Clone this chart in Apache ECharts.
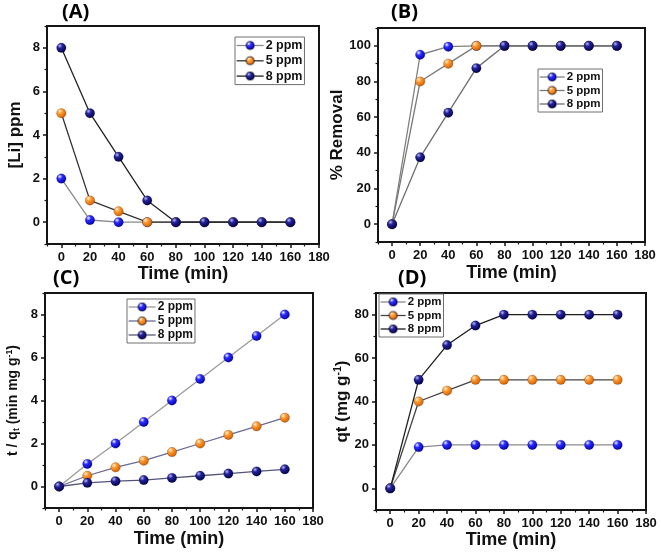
<!DOCTYPE html>
<html><head><meta charset="utf-8">
<script src="https://cdn.jsdelivr.net/npm/echarts@6/dist/echarts.min.js"></script>
<style>html,body{margin:0;padding:0;background:#fff}#c{width:661px;height:552px}</style>
</head><body><div id="c"></div>
<script>
// ---- data ----
const times = [0, 20, 40, 60, 80, 100, 120, 140, 160];
const seriesNames = ['2 ppm', '5 ppm', '8 ppm'];
const panelTitles = ['(A)', '(B)', '(C)', '(D)'];
const xTickLabels = [0, 20, 40, 60, 80, 100, 120, 140, 160, 180];
const xMinorTicks = [-10, 10, 30, 50, 70, 90, 110, 130, 150, 170];
// (A) [Li] ppm
const liA_2 = [2, 0.1, 0, 0, 0, 0, 0, 0, 0];
const liA_5 = [5, 1, 0.5, 0, 0, 0, 0, 0, 0];
const liA_8 = [8, 5, 3, 1, 0, 0, 0, 0, 0];
const yTicksA = [0, 2, 4, 6, 8];
const yMinorA = [-1, 1, 3, 5, 7, 9];
// (B) % Removal
const remB_2 = [0, 95, 99.5, 100, 100, 100, 100, 100, 100];
const remB_5 = [0, 80, 90, 100, 100, 100, 100, 100, 100];
const remB_8 = [0, 37.5, 62.5, 87.5, 100, 100, 100, 100, 100];
const yTicksB = [0, 20, 40, 60, 80, 100];
const yMinorB = [-10, 10, 30, 50, 70, 90, 110];
// (C) t/qt
const tqC_2 = [0, 1.05, 2, 3, 4, 5, 6, 7, 8];
const tqC_5 = [0, 0.5, 0.89, 1.2, 1.6, 2, 2.4, 2.8, 3.2];
const tqC_8 = [0, 0.17, 0.25, 0.3, 0.4, 0.5, 0.6, 0.7, 0.8];
const yTicksC = [0, 2, 4, 6, 8];
const yMinorC = [-1, 1, 3, 5, 7, 9];
// (D) qt
const qtD_2 = [0, 19, 20, 20, 20, 20, 20, 20, 20];
const qtD_5 = [0, 40, 45, 50, 50, 50, 50, 50, 50];
const qtD_8 = [0, 50, 66, 75, 80, 80, 80, 80, 80];
const yTicksD = [0, 20, 40, 60, 80];
const yMinorD = [-10, 10, 30, 50, 70, 90];

// ---- styling ----
const FONT = '"Liberation Sans", Arial, sans-serif';
const AX = '#151515';
function sphere(c0, c1, c2) {
  return new echarts.graphic.RadialGradient(0.35, 0.3, 0.72, [
    { offset: 0, color: c0 }, { offset: 0.35, color: c1 }, { offset: 1, color: c2 }
  ]);
}
const markerFill = [
  () => sphere('#f0f4ff', '#2b2bff', '#0000a8'),
  () => sphere('#fff3dc', '#ff9a2e', '#cf5c00'),
  () => sphere('#b8b8f0', '#23239a', '#000048')
];

const panels = [
  { data: [liA_2, liA_5, liA_8], ymin: -1, ymax: 9, yt: yTicksA, ym: yMinorA,
    grid: { left: 47, top: 26, width: 272, height: 218 },
    yname: '[Li] ppm', ynameGap: 23, ynameSize: 17, xnameGap: 21,
    lines: ['#8a8a8a', '#333333', '#222222'],
    legend: { left: 235, top: 37, fs: 12.5, gap: 2.3, pad: [2, 2, 2, 1], iw: 27 },
    title: { left: 62, top: 2 } },
  { data: [remB_2, remB_5, remB_8], ymin: -10, ymax: 110, yt: yTicksB, ym: yMinorB,
    grid: { left: 378, top: 28, width: 267, height: 214 },
    yname: '% Removal', ynameGap: 30, ynameSize: 17, xnameGap: 22,
    lines: ['#808080', '#7a7a7a', '#6e6e6e'],
    legend: { left: 538, top: 69, fs: 11.5, gap: 1.5, pad: [2, 2, 2, 1], iw: 25 },
    title: { left: 391, top: 2 } },
  { data: [tqC_2, tqC_5, tqC_8], ymin: -1, ymax: 9, yt: yTicksC, ym: yMinorC,
    grid: { left: 45, top: 293, width: 268, height: 215 },
    yname: '{n|t / q}{sub|t}{n| (min mg g}{sup|-1}{n|)}', ynameGap: 24, ynameSize: 14, xnameGap: 22,
    lines: ['#9a9a9a', '#6a6a96', '#55557a'],
    legend: { left: 127, top: 299, fs: 12, gap: 2, pad: [2, 2, 2, 1], iw: 27 },
    title: { left: 53, top: 268 } },
  { data: [qtD_2, qtD_5, qtD_8], ymin: -10, ymax: 90, yt: yTicksD, ym: yMinorD,
    grid: { left: 376, top: 293, width: 270, height: 217 },
    yname: '{n|qt (mg g}{sup|-1}{n|)}', ynameGap: 24, ynameSize: 17, xnameGap: 21,
    lines: ['#8a8a8a', '#444444', '#1e1e1e'],
    legend: { left: 379, top: 294, fs: 11.5, gap: 1.5, pad: [2, 2, 2, 1], iw: 25 },
    title: { left: 398, top: 268 } }
];

const option = {
  animation: false,
  backgroundColor: '#fff',
  title: [], grid: [], xAxis: [], yAxis: [], legend: [], series: []
};

panels.forEach((p, i) => {
  option.title.push({
    text: panelTitles[i], left: p.title.left, top: p.title.top, padding: 0,
    textStyle: { fontFamily: '"Open Sans", sans-serif', fontWeight: 'bold', fontSize: 20, color: '#000' }
  });
  option.grid.push(Object.assign({ show: true, borderColor: AX, borderWidth: 2, backgroundColor: 'transparent' }, p.grid));
  // main x axis
  option.xAxis.push({
    type: 'value', gridIndex: i, min: -10, max: 180, position: 'bottom',
    axisLine: { show: true, onZero: false, lineStyle: { color: AX, width: 2 } },
    axisTick: { show: true, inside: false, length: 4, customValues: xTickLabels, lineStyle: { color: AX, width: 1.5 } },
    axisLabel: { customValues: xTickLabels, margin: 7, fontFamily: FONT, fontWeight: 'bold', fontSize: 13, color: '#111' },
    splitLine: { show: false },
    name: 'Time (min)', nameLocation: 'middle', nameGap: p.xnameGap,
    nameTextStyle: { fontFamily: FONT, fontWeight: 'bold', fontSize: 18, color: '#111' }
  });
  // minor x ticks
  option.xAxis.push({
    type: 'value', gridIndex: i, min: -10, max: 180, position: 'bottom', offset: 0,
    axisLine: { show: false, onZero: false },
    axisTick: { show: true, inside: false, length: 2.5, customValues: xMinorTicks, lineStyle: { color: AX, width: 1.2 } },
    axisLabel: { show: false }, splitLine: { show: false }
  });
  const nameRich = {
    n: { fontFamily: FONT, fontWeight: 'bold', fontSize: p.ynameSize, color: '#111', lineHeight: p.ynameSize + 2 },
    sub: { fontFamily: FONT, fontWeight: 'bold', fontSize: p.ynameSize * 0.62, color: '#111', verticalAlign: 'bottom', lineHeight: p.ynameSize * 0.7 },
    sup: { fontFamily: FONT, fontWeight: 'bold', fontSize: p.ynameSize * 0.62, color: '#111', verticalAlign: 'top', lineHeight: p.ynameSize * 0.7 }
  };
  option.yAxis.push({
    type: 'value', gridIndex: i, min: p.ymin, max: p.ymax, position: 'left',
    axisLine: { show: true, onZero: false, lineStyle: { color: AX, width: 2 } },
    axisTick: { show: true, inside: false, length: 4, customValues: p.yt, lineStyle: { color: AX, width: 1.5 } },
    axisLabel: { customValues: p.yt, margin: 7, fontFamily: FONT, fontWeight: 'bold', fontSize: 13, color: '#111' },
    splitLine: { show: false },
    name: p.yname, nameLocation: 'middle', nameGap: p.ynameGap,
    nameTextStyle: { fontFamily: FONT, fontWeight: 'bold', fontSize: p.ynameSize, color: '#111', rich: nameRich }
  });
  option.yAxis.push({
    type: 'value', gridIndex: i, min: p.ymin, max: p.ymax, position: 'left', offset: 0,
    axisLine: { show: false, onZero: false },
    axisTick: { show: true, inside: false, length: 2.5, customValues: p.ym, lineStyle: { color: AX, width: 1.2 } },
    axisLabel: { show: false }, splitLine: { show: false }
  });
  p.data.forEach((vals, k) => {
    option.series.push({
      type: 'line', name: seriesNames[k],
      xAxisIndex: 2 * i, yAxisIndex: 2 * i,
      data: times.map((t, j) => [t, vals[j]]),
      symbol: 'circle', symbolSize: 9.5, showSymbol: true,
      lineStyle: { color: p.lines[k], width: 1.3 },
      itemStyle: { color: markerFill[k](), borderColor: 'rgba(0,0,30,0.35)', borderWidth: 0.5 },
      z: 2 + k
    });
  });
  option.legend.push({
    data: seriesNames.map((n, k) => ({ name: n, lineStyle: { color: p.lines[k], width: 1.3 } })),
    orient: 'vertical', left: p.legend.left, top: p.legend.top,
    padding: p.legend.pad, itemGap: p.legend.gap, itemWidth: p.legend.iw, itemHeight: 10,
    borderColor: '#707070', borderWidth: 1, backgroundColor: '#fff',
    selectedMode: false,
    textStyle: { fontFamily: FONT, fontWeight: 'bold', fontSize: p.legend.fs, color: '#111', padding: [0, 0, 0, -3] }
  });
});

const chart = echarts.init(document.getElementById('c'), null, { renderer: 'canvas' });
chart.setOption(option);
</script>
</body></html>
